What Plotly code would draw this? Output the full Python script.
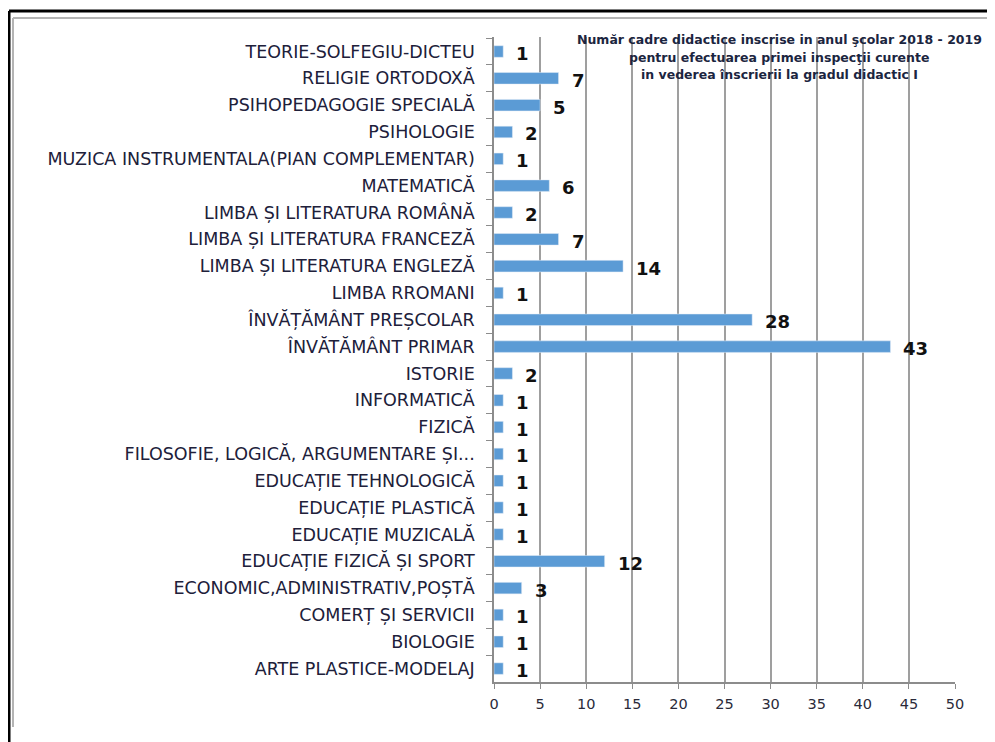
import plotly.graph_objects as go

# categories as listed top to bottom in the chart
categories = [
    "TEORIE-SOLFEGIU-DICTEU",
    "RELIGIE ORTODOXĂ",
    "PSIHOPEDAGOGIE SPECIALĂ",
    "PSIHOLOGIE",
    "MUZICA INSTRUMENTALA(PIAN COMPLEMENTAR)",
    "MATEMATICĂ",
    "LIMBA ȘI LITERATURA ROMÂNĂ",
    "LIMBA ȘI LITERATURA FRANCEZĂ",
    "LIMBA ȘI LITERATURA ENGLEZĂ",
    "LIMBA RROMANI",
    "ÎNVĂȚĂMÂNT PREȘCOLAR",
    "ÎNVĂTĂMÂNT PRIMAR",
    "ISTORIE",
    "INFORMATICĂ",
    "FIZICĂ",
    "FILOSOFIE, LOGICĂ, ARGUMENTARE ȘI...",
    "EDUCAȚIE TEHNOLOGICĂ",
    "EDUCAȚIE PLASTICĂ",
    "EDUCAȚIE MUZICALĂ",
    "EDUCAȚIE FIZICĂ ȘI SPORT",
    "ECONOMIC,ADMINISTRATIV,POȘTĂ",
    "COMERȚ ȘI SERVICII",
    "BIOLOGIE",
    "ARTE PLASTICE-MODELAJ",
]
counts = [1, 7, 5, 2, 1, 6, 2, 7, 14, 1, 28, 43, 2, 1, 1, 1, 1, 1, 1, 12, 3, 1, 1, 1]

x_ticks = [0, 5, 10, 15, 20, 25, 30, 35, 40, 45, 50]

title_lines = [
    "Număr cadre didactice inscrise in anul şcolar 2018 - 2019",
    "pentru efectuarea primei inspecţii curente",
    "in vederea înscrierii la gradul didactic I",
]

# the page body has an 8px margin, so the figure is drawn 8px in
OFF = 8
W, H = 995 - OFF, 742 - OFF
L, T = 494 - OFF, 37 - OFF
R, B = W - (955 - OFF), H - (682 - OFF)
pw, ph = 955 - 494, 682 - 37


# convert pixel positions in the reference picture to paper coords
def px(x):
    return (x - 494) / pw


def py(y):
    return (682 - y) / ph


fig = go.Figure(
    go.Bar(
        x=counts,
        y=categories,
        orientation="h",
        marker_color="#5b9bd5",
        hoverinfo="x+y",
    )
)

for c, v in zip(categories, counts):
    fig.add_annotation(
        x=v, y=c, text=str(v), showarrow=False,
        xanchor="left", xshift=11, yshift=-2,
        font=dict(family="DejaVu Sans", size=18, color="#111111", weight="bold"),
    )

for i, line in enumerate(title_lines):
    fig.add_annotation(
        xref="paper", yref="paper", x=px(779), y=py(40 + 17 * i),
        text=line, showarrow=False, xanchor="center", yanchor="middle",
        font=dict(family="DejaVu Sans", size=12.5, color="#1b2540", weight="bold"),
    )

frame = [
    (9, 11, 995, 11, "black", 3),
    (9, 11, 9, 742, "black", 3),
    (13, 18, 992, 18, "#b4b4b4", 2),
    (13, 18, 13, 727, "#b4b4b4", 2),
    (992, 18, 992, 727, "#b4b4b4", 2),
]
for x0, y0, x1, y1, col, w in frame:
    fig.add_shape(
        type="line", xref="paper", yref="paper",
        x0=px(x0), y0=py(y0), x1=px(x1), y1=py(y1),
        line=dict(color=col, width=w),
    )

fig.update_layout(
    width=W, height=H,
    margin=dict(l=L, r=R, t=T, b=B),
    paper_bgcolor="white", plot_bgcolor="white",
    bargap=0.57,
    showlegend=False,
    xaxis=dict(
        range=[0, 50], tickvals=x_ticks,
        showgrid=True, gridcolor="#9f9f9f", gridwidth=1.5,
        showline=True, linecolor="#8c8c8c", linewidth=1.5,
        ticks="outside", ticklen=5, tickcolor="#8c8c8c",
        ticklabelstandoff=3,
        tickfont=dict(family="DejaVu Sans", size=14.5, color="#2a2a3a"),
        zeroline=False, fixedrange=True,
    ),
    yaxis=dict(
        autorange="reversed",
        showline=True, linecolor="#8c8c8c", linewidth=1.5,
        ticks="outside", ticklen=6, tickcolor="#8c8c8c", tickson="boundaries",
        ticklabelstandoff=14,
        tickfont=dict(family="DejaVu Sans", size=17.5, color="#20203a"),
        showgrid=False,
    ),
)

fig.write_html("out.html")
